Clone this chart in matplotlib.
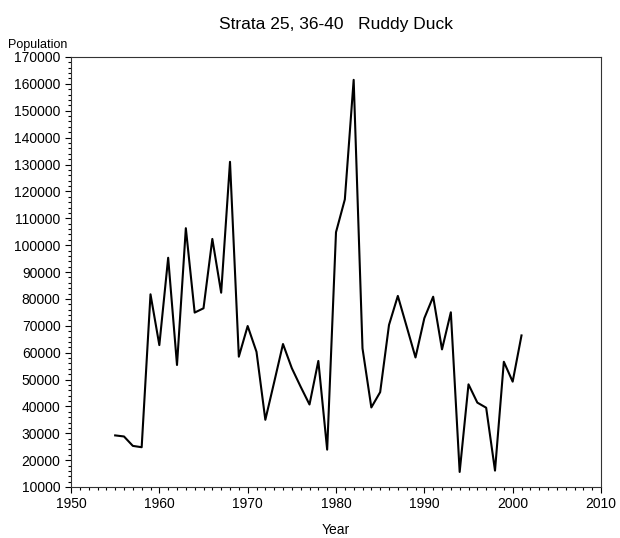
import matplotlib
matplotlib.use("Agg")
import matplotlib.pyplot as plt
from matplotlib.ticker import MultipleLocator

plt.rcParams['font.family'] = ['Liberation Sans', 'DejaVu Sans']

years = list(range(1955, 2002))
population = [29200, 28800, 25300, 24800, 81700, 62800, 95300, 55400, 106300, 74900,
              76500, 102300, 82300, 131000, 58500, 69900, 60300, 35000, 49000, 63200,
              54200, 47300, 40700, 56900, 23900, 104800, 117000, 161500, 61600, 39600,
              45300, 70300, 81100, 69700, 58200, 72800, 80800, 61200, 75000, 15600,
              48200, 41400, 39500, 16100, 56600, 49200, 66400]

title = "Strata 25, 36-40   Ruddy Duck"
xlabel = "Year"
ylabel = "Population"

fig = plt.figure(figsize=(6.2, 5.38), dpi=100)
ax = fig.add_axes([71/620, 51/538, 530/620, 430/538])
ax.plot(years, population, color='black', linewidth=1.5)

ax.set_xlim(1950, 2010)
ax.set_ylim(10000, 170000)
ax.xaxis.set_major_locator(MultipleLocator(10))
ax.xaxis.set_minor_locator(MultipleLocator(1))
ax.yaxis.set_major_locator(MultipleLocator(10000))
ax.yaxis.set_minor_locator(MultipleLocator(2000))
ax.tick_params(axis='both', which='major', direction='out', length=4, width=0.8,
               labelsize=10, top=False, right=False)
ax.tick_params(axis='both', which='minor', direction='out', length=2, width=0.8,
               top=False, right=False)
for s in ax.spines.values():
    s.set_linewidth(0.8)
    s.set_color('#333333')

ax.set_xlabel(xlabel, fontsize=10, labelpad=8)
fig.text(8/620, 1 - 45/538, ylabel, fontsize=9, ha='left', va='center')
fig.text(336/620, 1 - 25/538, title, fontsize=12.5, ha='center', va='center')

fig.savefig("out.png", dpi=100)
